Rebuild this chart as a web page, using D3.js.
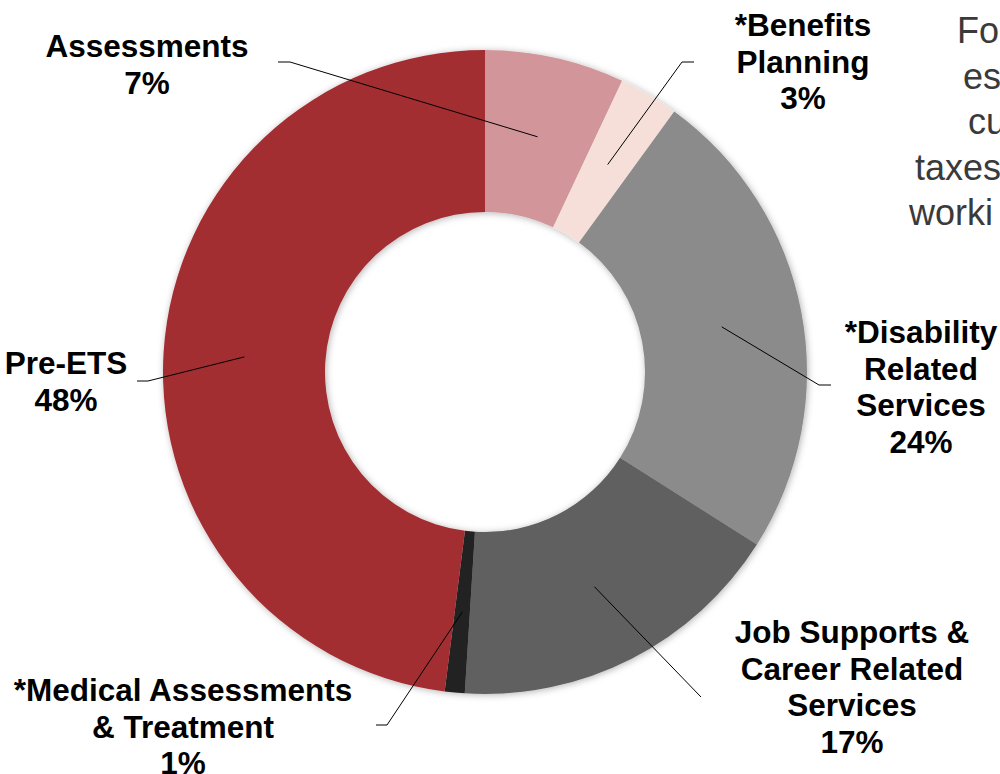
<!DOCTYPE html>
<html>
<head>
<meta charset="utf-8">
<script src="https://cdn.jsdelivr.net/npm/d3@7"></script>
<style>
  html, body { margin: 0; padding: 0; background: #fff; overflow: hidden; }
  svg { display: block; }
</style>
</head>
<body>
<div id="container"></div>
<script>
const width = 1000;
const height = 774;

// data
const categories = ['Assessments', '*Benefits Planning', '*Disability Related Services',
  'Job Supports & Career Related Services', '*Medical Assessments & Treatment', 'Pre-ETS'];
const values = [7, 3, 24, 17, 1, 48];
const labelLines = [
  ['Assessments'],
  ['*Benefits', 'Planning'],
  ['*Disability', 'Related', 'Services'],
  ['Job Supports &', 'Career Related', 'Services'],
  ['*Medical Assessments', '& Treatment'],
  ['Pre-ETS']
];
const colors = ['#d29599', '#f6dfd9', '#8b8b8b', '#606060', '#222222', '#a32d33'];
const sideText = ['Fo', 'es', 'cu', 'taxes', 'worki'];

// layout
const cx = 485, cy = 372;
const outerR = 322, innerR = 160;
const lineH = 36.5;
// label block centre x, first baseline y, leader start [x,y], knee x
const labelPos = [
  { x: 147, y: 57, sx: 278, sy: 62, kx: 290 },
  { x: 803, y: 36, sx: 694, sy: 62, kx: 682 },
  { x: 921, y: 343, sx: 831, sy: 385, kx: 819 },
  { x: 852, y: 643, sx: 701, sy: 697, kx: 701 },
  { x: 183, y: 701, sx: 376, sy: 725, kx: 387 },
  { x: 66, y: 374, sx: 137, sy: 381, kx: 148 }
];
const sideX = [957, 963, 968, 915, 909];

const svg = d3.select('#container')
  .append('svg')
  .attr('width', width)
  .attr('height', height)
  .attr('font-family', '"Liberation Sans", Arial, sans-serif');

const filter = svg.append('defs').append('filter')
  .attr('id', 'shadow')
  .attr('x', '-10%').attr('y', '-10%')
  .attr('width', '120%').attr('height', '120%');
filter.append('feDropShadow')
  .attr('dx', 1).attr('dy', 1)
  .attr('stdDeviation', 3.5)
  .attr('flood-color', '#000')
  .attr('flood-opacity', 0.3);

const pie = d3.pie().sort(null).value(d => d);
const arcs = pie(values);
const arc = d3.arc().innerRadius(innerR).outerRadius(outerR);

const donut = svg.append('g')
  .attr('transform', `translate(${cx},${cy})`);

donut.append('g')
  .attr('filter', 'url(#shadow)')
  .selectAll('path')
  .data(arcs)
  .join('path')
  .attr('d', arc)
  .attr('fill', (d, i) => colors[i]);

// leader lines
svg.append('g')
  .selectAll('polyline')
  .data(arcs)
  .join('polyline')
  .attr('fill', 'none')
  .attr('stroke', '#000')
  .attr('stroke-width', 1)
  .attr('points', (d, i) => {
    const p = labelPos[i];
    const c = arc.centroid(d);
    return [[p.sx, p.sy], [p.kx, p.sy], [cx + c[0], cy + c[1]]].map(q => q.join(',')).join(' ');
  });

// labels
const labels = svg.append('g')
  .selectAll('text')
  .data(arcs)
  .join('text')
  .attr('text-anchor', 'middle')
  .attr('font-weight', 'bold')
  .attr('font-size', 31.5)
  .attr('fill', '#000');

labels.each(function (d, i) {
  const p = labelPos[i];
  const lines = labelLines[i].concat([`${values[i]}%`]);
  d3.select(this).selectAll('tspan')
    .data(lines)
    .join('tspan')
    .attr('x', p.x)
    .attr('y', (t, j) => p.y + j * lineH)
    .text(t => t);
});

// side text, running off the right edge as in the source slide
svg.append('g')
  .selectAll('text')
  .data(sideText)
  .join('text')
  .attr('x', (d, i) => sideX[i])
  .attr('y', (d, i) => 43 + i * 45.5)
  .attr('font-size', 36)
  .attr('fill', '#3a3a3a')
  .text(d => d);
</script>
</body>
</html>
